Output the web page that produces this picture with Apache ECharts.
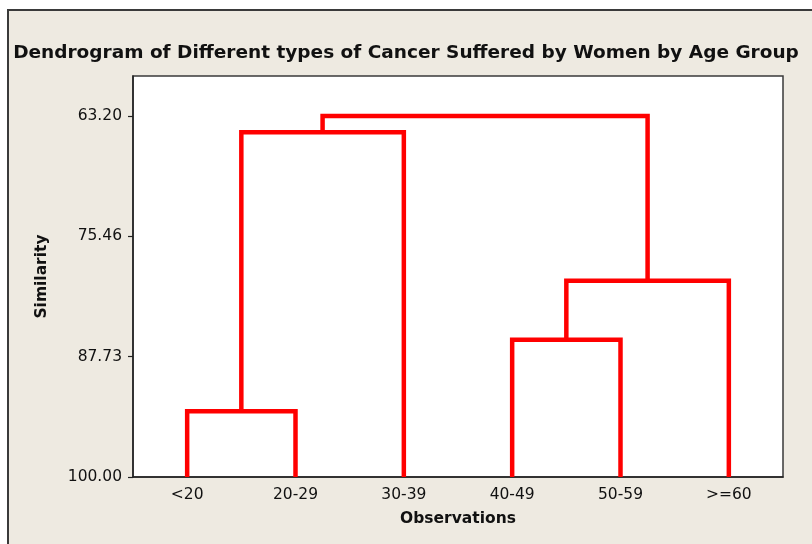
<!DOCTYPE html>
<html>
<head>
<meta charset="utf-8">
<style>
    html, body { margin: 0; padding: 0; background: #ffffff; }
    #chart { width: 812px; height: 544px; }
</style>
<script src="https://cdn.jsdelivr.net/npm/echarts@6/dist/echarts.min.js"></script>
</head>
<body>
<div id="chart"></div>
<script>
// Observações (folhas do dendrograma)
var ageGroups = ['<20', '20-29', '30-39', '40-49', '50-59', '>=60'];

// Ticks do eixo de similaridade
var yTicks = [63.20, 75.46, 87.73, 100.00];

// Junções: nós 0-5 são as folhas, 6+ são os clusters formados em ordem
var joinLeft = [0, 3, 6, 7, 8];
var joinRight = [1, 4, 2, 5, 9];
var joinLevel = [93.30, 86.02, 64.86, 80.00, 63.20];

var dom = document.getElementById('chart');
var myChart = echarts.init(dom, null, { renderer: 'canvas' });

// posição e altura de cada nó
var nodeX = [];
var nodeY = [];
for (var i = 0; i < ageGroups.length; i++) {
    nodeX.push(i);
    nodeY.push(100);
}

var series = [];
for (var j = 0; j < joinLevel.length; j++) {
    var a = joinLeft[j], b = joinRight[j], h = joinLevel[j];
    series.push({
        type: 'line',
        xAxisIndex: 1,
        symbol: 'none',
        silent: true,
        lineStyle: { color: '#ff0000', width: 4.5, join: 'miter' },
        data: [
            [nodeX[a], nodeY[a]],
            [nodeX[a], h],
            [nodeX[b], h],
            [nodeX[b], nodeY[b]]
        ]
    });
    nodeX.push((nodeX[a] + nodeX[b]) / 2);
    nodeY.push(h);
}

var font = 'DejaVu Sans';

var option = {
    backgroundColor: '#ffffff',
    animation: false,
    textStyle: { fontFamily: font },
    graphic: [{
        type: 'rect',
        z: -10,
        shape: { x: 8, y: 10, width: 830, height: 560 },
        style: { fill: '#eeeae1', stroke: '#3a3a3a', lineWidth: 2 }
    }],
    title: {
        text: 'Dendrogram of Different types of Cancer Suffered by Women by Age Group',
        left: 'center',
        top: 39,
        textStyle: { fontFamily: font, fontSize: 18.5, fontWeight: 'bold', color: '#111' }
    },
    grid: {
        left: 133,
        right: 29,
        top: 76,
        bottom: 67,
        show: true,
        backgroundColor: '#ffffff',
        borderColor: '#3a3a3a',
        borderWidth: 1.5
    },
    xAxis: [
        {
            type: 'category',
            data: ageGroups,
            boundaryGap: true,
            name: 'Observations',
            nameLocation: 'middle',
            nameGap: 34,
            nameTextStyle: { fontFamily: font, fontSize: 15.5, fontWeight: 'bold', color: '#111' },
            axisLine: { onZero: false, lineStyle: { color: '#222', width: 1.5 } },
            axisTick: { alignWithLabel: true, length: 6, lineStyle: { color: '#222', width: 1.2 } },
            axisLabel: { fontSize: 15.5, color: '#111', margin: 10 },
            splitLine: { show: false }
        },
        {
            type: 'value',
            min: -0.5,
            max: 5.5,
            show: false
        }
    ],
    yAxis: {
        type: 'value',
        inverse: true,
        min: 59.12,
        max: 100,
        name: 'Similarity',
        nameLocation: 'middle',
        nameGap: 83,
        nameRotate: 90,
        nameTextStyle: { fontFamily: font, fontSize: 15.5, fontWeight: 'bold', color: '#111' },
        axisLine: { show: true, onZero: false, lineStyle: { color: '#222', width: 1.5 } },
        axisTick: { show: true, length: 5, customValues: yTicks, lineStyle: { color: '#222', width: 1.2 } },
        axisLabel: {
            customValues: yTicks,
            fontSize: 15.5,
            color: '#111',
            margin: 11,
            formatter: function (v) { return v.toFixed(2); }
        },
        splitLine: { show: false }
    },
    series: series
};

myChart.setOption(option);
</script>
</body>
</html>
